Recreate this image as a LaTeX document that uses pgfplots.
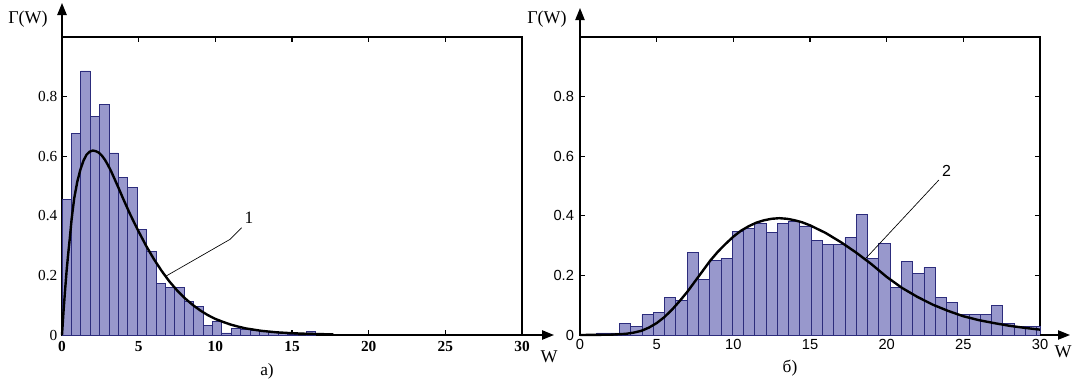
\documentclass[border=0pt]{standalone}
\usepackage{fontspec}
\setmainfont{Liberation Serif}
\newfontfamily\sansf{Liberation Sans}
\usepackage{pgfplots}
\pgfplotsset{compat=1.18}
\usetikzlibrary{arrows.meta}
\definecolor{barfill}{RGB}{152,152,204}
\definecolor{baredge}{RGB}{44,44,124}
\begin{document}
\begin{tikzpicture}[x=0.75pt,y=0.75pt]
\path[use as bounding box] (0,0) rectangle (1073,380);
% ---------- left panel ----------
\begin{axis}[at={(46.5pt,33.75pt)}, anchor=south west, scale only axis,
  width=345pt, height=223.5pt,
  xmin=0, xmax=30, ymin=0, ymax=1,
  axis line style={line width=1.2pt},
  xtick={0,5,...,30}, ytick={0,0.2,0.4,0.6,0.8},
  ytick pos=left, xtick pos=both, tick align=inside,
  major tick length=4pt, tick style={line width=1pt, black},
  xticklabel style={font=\bfseries\fontsize{11.5}{13}\selectfont, yshift=-1pt},
  yticklabel style={font=\fontsize{11.5}{13}\selectfont},
  /pgf/number format/assume math mode=true, clip=false]
\addplot[ybar interval, fill=barfill, draw=baredge, line width=0.6pt] coordinates {
(0,0.456) (0.613,0.676) (1.226,0.886) (1.839,0.734) (2.452,0.774) (3.065,0.611)
(3.678,0.529) (4.291,0.494) (4.904,0.355) (5.517,0.281) (6.13,0.172) (6.743,0.160)
(7.356,0.160) (7.969,0.112) (8.582,0.096) (9.195,0.031) (9.808,0.045) (10.421,0.007)
(11.034,0.023) (11.647,0.018) (12.26,0.015) (12.873,0.012) (13.486,0.008) (14.099,0.005)
(14.712,0.003) (15.325,0.0) (15.938,0.011) (16.551,0)};
\addplot[black, line width=1.8pt] coordinates {
(0,0) (0.05,0.04) (0.1,0.08) (0.2,0.15) (0.3,0.215) (0.4,0.27) (0.5,0.32) (0.63,0.39)
(0.8,0.46) (1.0,0.515) (1.2,0.555) (1.4,0.585) (1.6,0.605) (1.8,0.615) (2.0,0.619)
(2.2,0.617) (2.4,0.612) (2.6,0.602) (2.8,0.588) (3.0,0.57) (3.2,0.55) (3.4,0.527)
(3.7,0.492) (4.0,0.456) (4.4,0.41) (4.7,0.378) (5.0,0.347) (5.5,0.298) (6.0,0.254)
(6.5,0.215) (7.0,0.18) (7.5,0.15) (8.0,0.124) (8.5,0.102) (9.0,0.083) (9.5,0.067)
(10.0,0.054) (10.5,0.044) (11.0,0.035) (11.5,0.028) (12.0,0.022) (13.0,0.014)
(14.0,0.009) (15.0,0.006) (16.0,0.004) (17.7,0.002)};
\draw[line width=0.5pt] (axis cs:6.76,0.197) -- (axis cs:10.96,0.321) -- (axis cs:11.72,0.36);
\node[font=\fontsize{13}{15}\selectfont] at (axis cs:12.2,0.394) {1};
\end{axis}
% ---------- right panel ----------
\begin{axis}[at={(435pt,33.75pt)}, anchor=south west, scale only axis,
  width=345pt, height=223.5pt,
  xmin=0, xmax=30, ymin=0, ymax=1,
  axis line style={line width=0.9pt},
  xtick={0,5,...,30}, ytick={0,0.2,0.4,0.6,0.8},
  ytick pos=both, xtick pos=both, tick align=inside,
  major tick length=4pt, tick style={line width=0.9pt, black},
  ticklabel style={font=\sansf\fontsize{11}{13}\selectfont},
  yticklabel style={xshift=-1pt},
  /pgf/number format/assume math mode=true, clip=false]
\addplot[ybar interval, fill=barfill, draw=baredge, line width=0.6pt] coordinates {
(1.099,0.007) (1.835,0.007) (2.570,0.038) (3.305,0.030) (4.041,0.068) (4.776,0.076)
(5.512,0.125) (6.248,0.116) (6.983,0.278) (7.718,0.187) (8.454,0.249) (9.189,0.257)
(9.925,0.348) (10.660,0.357) (11.396,0.374) (12.131,0.344) (12.867,0.374) (13.602,0.380)
(14.338,0.366) (15.073,0.317) (15.809,0.304) (16.544,0.304) (17.280,0.327) (18.015,0.405)
(18.750,0.257) (19.486,0.308) (20.222,0.161) (20.957,0.247) (21.692,0.207) (22.428,0.227)
(23.164,0.125) (23.899,0.108) (24.634,0.068) (25.370,0.068) (26.106,0.068) (26.841,0.100)
(27.576,0.038) (28.312,0.028) (29.047,0.028) (29.783,0.030) (30,0)};
\addplot[black, line width=1.8pt] coordinates {
(0,0) (2,0.001) (3,0.004) (3.5,0.008) (4,0.014) (4.5,0.025) (5,0.04) (5.5,0.06)
(6,0.085) (6.5,0.114) (7,0.145) (7.5,0.18) (8,0.215) (8.5,0.25) (9,0.28) (9.5,0.306)
(10,0.33) (10.5,0.35) (11,0.365) (11.5,0.377) (12,0.385) (12.5,0.39) (13,0.392)
(13.5,0.39) (14,0.385) (14.5,0.378) (15,0.368) (16,0.343) (17,0.312) (18,0.277)
(19,0.238) (20,0.195) (21,0.158) (22,0.128) (23,0.102) (24,0.081) (25,0.063)
(26,0.05) (27,0.04) (28,0.031) (29,0.024) (30,0.018)};
\draw[line width=0.5pt] (axis cs:18.6,0.255) -- (axis cs:23.4,0.52);
\node[font=\sansf\fontsize{12}{14}\selectfont] at (axis cs:23.9,0.55) {2};
\end{axis}
% ---------- arrows and labels ----------
\draw[line width=1.2pt, -{Triangle[length=9pt,width=7pt]}] (62,343) -- (62,377);
\draw[line width=1.2pt, -{Triangle[length=9pt,width=7pt]}] (522,45) -- (554,45);
\draw[line width=0.9pt, -{Triangle[length=9pt,width=7pt]}] (580,343) -- (580,372);
\draw[line width=0.9pt, -{Triangle[length=9pt,width=7pt]}] (1040,45) -- (1070,45);
\node[font=\fontsize{13.5}{15}\selectfont] at (28,361) {Γ(W)};
\node[font=\fontsize{13.5}{15}\selectfont] at (547,361) {Γ(W)};
\node[font=\fontsize{13.5}{15}\selectfont] at (549,23) {W};
\node[font=\fontsize{13.5}{15}\selectfont] at (1063,28) {W};
\node[font=\fontsize{13}{15}\selectfont] at (267,9) {а)};
\node[font=\fontsize{13}{15}\selectfont] at (790,12) {б)};
\end{tikzpicture}
\end{document}
